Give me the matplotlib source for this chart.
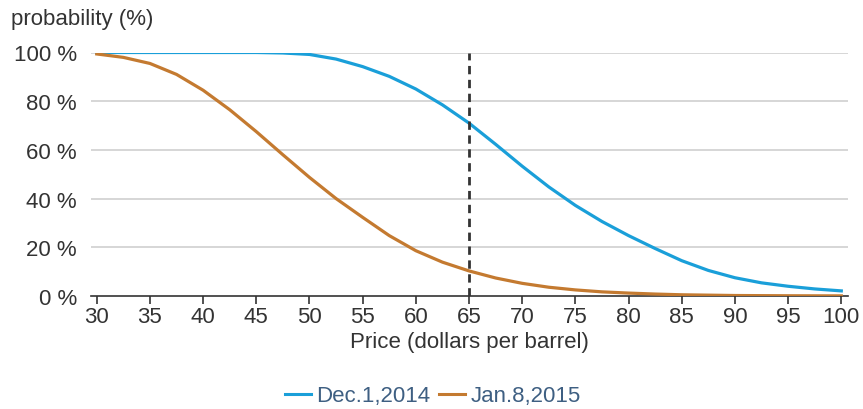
import matplotlib
matplotlib.use("Agg")
import matplotlib.pyplot as plt
from matplotlib.lines import Line2D

plt.rcParams['font.family'] = ['Liberation Sans', 'DejaVu Sans']

price = [30, 32.5, 35, 37.5, 40, 42.5, 45, 47.5, 50, 52.5, 55, 57.5, 60, 62.5,
         65, 67.5, 70, 72.5, 75, 77.5, 80, 82.5, 85, 87.5, 90, 92.5, 95, 97.5, 100]
dec_2014 = [100, 100, 100, 100, 100, 100, 100, 99.8, 99.2, 97.3, 94.2, 90.2, 85, 78.5,
            71, 62.3, 53.3, 44.8, 37.2, 30.6, 24.8, 19.5, 14.5, 10.5, 7.5, 5.4, 4, 2.9, 2.1]
jan_2015 = [99.4, 98, 95.5, 91, 84.5, 76.5, 67.5, 58, 48.7, 40, 32.3, 24.8, 18.6, 13.9,
            10.3, 7.4, 5.2, 3.6, 2.5, 1.7, 1.2, 0.8, 0.5, 0.35, 0.2, 0.15, 0.1, 0.07, 0.05]
series_names = ["Dec.1,2014", "Jan.8,2015"]
xticks = list(range(30, 101, 5))
yticks = [0, 20, 40, 60, 80, 100]
marker_price = 65

blue = "#1a9fd9"
orange = "#c47a30"
txt = "#333333"
fs = 16

fig = plt.figure(figsize=(8.63, 4.10), dpi=100)
ax = fig.add_axes([90.7/863, 1-297/410, (848-90.7)/863, (297-53.5)/410])

for yv in yticks[1:]:
    ax.axhline(yv, color="#d0d0d0", lw=1.2, zorder=0)

ax.plot(price, dec_2014, color=blue, lw=2.3, zorder=3, solid_joinstyle='round')
ax.plot(price, jan_2015, color=orange, lw=2.3, zorder=3, solid_joinstyle='round')
ax.axvline(marker_price, color="#333333", lw=2, ls=(0, (3, 2)), zorder=4)

ax.set_xlim(29.43, 100.63)
ax.set_ylim(0, 100)
ax.set_xticks(xticks)
ax.set_xticklabels([str(v) for v in xticks])
ax.set_yticks(yticks)
ax.set_yticklabels([f"{v} %" for v in yticks])

for s in ["top", "right", "left"]:
    ax.spines[s].set_visible(False)
ax.spines["bottom"].set_color("#333333")
ax.spines["bottom"].set_linewidth(1.2)
ax.tick_params(axis='x', length=6, width=1.2, color="#333333", labelsize=fs, labelcolor=txt, pad=1)
ax.tick_params(axis='y', length=0, labelsize=fs, labelcolor=txt, pad=10)

ax.set_xlabel("Price (dollars per barrel)", fontsize=fs, color=txt, labelpad=3)
fig.text(11/863, 1-20/410, "probability (%)", fontsize=fs, color=txt, ha='left', va='center')

handles = [Line2D([], [], color=blue, lw=2.2), Line2D([], [], color=orange, lw=2.2)]
leg = fig.legend(handles, series_names, loc='center', bbox_to_anchor=(433/863, 1-397/410),
                 ncol=2, frameon=False, fontsize=fs, handlelength=1.15, handletextpad=0.25,
                 columnspacing=0.4, borderpad=0, borderaxespad=0)
for t in leg.get_texts():
    t.set_color("#3e5f82")

fig.savefig("out.png", dpi=100)
